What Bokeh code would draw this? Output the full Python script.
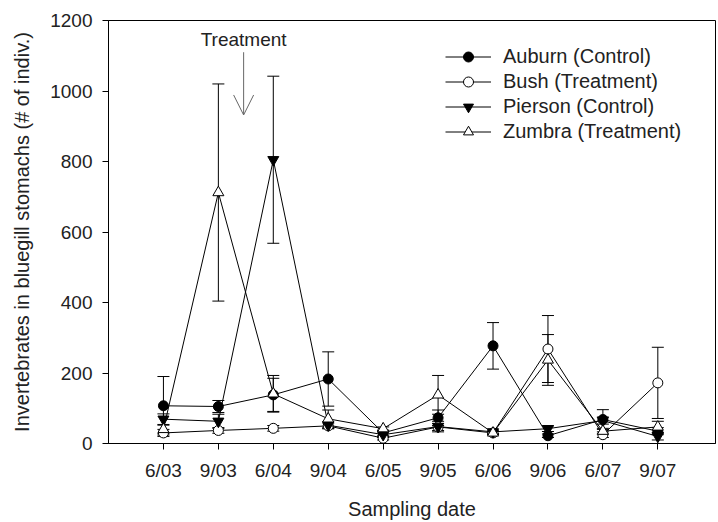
from bokeh.plotting import figure
from bokeh.models import (Range1d, FixedTicker, Whisker, TeeHead, ColumnDataSource,
                          Legend, LegendItem, Arrow, OpenHead, Label)
from bokeh.embed import file_html
from bokeh.resources import INLINE

dates = ["6/03", "9/03", "6/04", "9/04", "6/05", "9/05", "6/06", "9/06", "6/07", "9/07"]

auburn = [107, 105, 138, 183, 30, 73, 277, 22, 68, 35]
auburn_se = [83, 17, 47, 77, 8, 22, 66, 5, 28, 10]
bush = [30, 37, 43, 50, 15, 47, 30, 268, 25, 172]
bush_se = [10, 8, 8, 8, 5, 10, 5, 95, 8, 101]
pierson = [69, 63, 805, 52, 25, 48, 33, 42, 65, 20]
pierson_se = [15, 20, 237, 10, 8, 15, 5, 8, 10, 10]
zumbra = [40, 712, 141, 70, 42, 138, 30, 237, 35, 47]
zumbra_se = [12, 308, 52, 25, 5, 55, 5, 72, 8, 16]

series = [
    ("Auburn (Control)", auburn, auburn_se, "circle", "black", 10),
    ("Bush (Treatment)", bush, bush_se, "circle", "white", 10),
    ("Pierson (Control)", pierson, pierson_se, "inverted_triangle", "black", 11),
    ("Zumbra (Treatment)", zumbra, zumbra_se, "triangle", "white", 11),
]

FONT = "Liberation Sans"
TXT = "#222222"

p = figure(width=718, height=522, output_backend="svg", toolbar_location=None,
           x_range=Range1d(-1, 10.05), y_range=Range1d(0, 1200),
           min_border_left=108, min_border_right=3, min_border_top=20, min_border_bottom=77)
p.grid.visible = False
p.outline_line_color = "black"
p.outline_line_width = 1
p.background_fill_color = "white"
p.border_fill_color = "white"

for ax in (p.xaxis[0], p.yaxis[0]):
    ax.axis_line_color = "black"
    ax.major_tick_line_color = "black"
    ax.major_tick_out = 6
    ax.major_tick_in = 0
    ax.minor_tick_line_color = None
    ax.major_label_text_font = FONT
    ax.major_label_text_font_size = "19px"
    ax.major_label_text_color = TXT
    ax.axis_label_text_font = FONT
    ax.axis_label_text_font_size = "20px"
    ax.axis_label_text_font_style = "normal"
    ax.axis_label_text_color = TXT

p.xaxis.ticker = FixedTicker(ticks=list(range(len(dates))))
p.xaxis.major_label_overrides = {i: d for i, d in enumerate(dates)}
p.xaxis.major_label_standoff = 10
p.xaxis.axis_label = "Sampling date"
p.xaxis.axis_label_standoff = 14

p.yaxis.ticker = FixedTicker(ticks=[0, 200, 400, 600, 800, 1000, 1200])
p.yaxis.major_label_standoff = 10
p.yaxis.axis_label = "Invertebrates in bluegill stomachs (# of indiv.)"
p.yaxis.axis_label_standoff = 14

xs = list(range(len(dates)))
items = []
for name, vals, se, marker, fill, size in series:
    src = ColumnDataSource(dict(
        x=xs, y=vals,
        lo=[max(v - s, 0) for v, s in zip(vals, se)],
        hi=[v + s for v, s in zip(vals, se)],
    ))
    w = Whisker(source=src, base="x", lower="lo", upper="hi",
                line_color="black", line_width=1,
                upper_head=TeeHead(size=12, line_color="black", line_width=1),
                lower_head=TeeHead(size=12, line_color="black", line_width=1))
    p.add_layout(w)
    ln = p.line("x", "y", source=src, line_color="black", line_width=1)
    sc = p.scatter("x", "y", source=src, marker=marker, size=size,
                   fill_color=fill, line_color="black", line_width=1)
    items.append(LegendItem(label=name, renderers=[ln, sc]))

legend = Legend(items=items, location=(337, 299), margin=0, padding=0, spacing=0,
                glyph_width=46, glyph_height=25, label_height=25, label_standoff=12,
                label_text_font=FONT, label_text_font_size="20px", label_text_color=TXT,
                border_line_color=None, background_fill_alpha=0)
p.add_layout(legend)

arrow = Arrow(end=OpenHead(size=20, line_color="#666666", line_width=1),
              x_start=1.46, y_start=1110, x_end=1.46, y_end=932,
              line_color="#666666", line_width=1)
p.add_layout(arrow)
p.add_layout(Label(x=1.46, y=1147, text="Treatment", text_align="center",
                   text_baseline="alphabetic", text_font=FONT, text_font_size="19px",
                   text_color=TXT))

open("out.html", "w").write(file_html(p, INLINE))
